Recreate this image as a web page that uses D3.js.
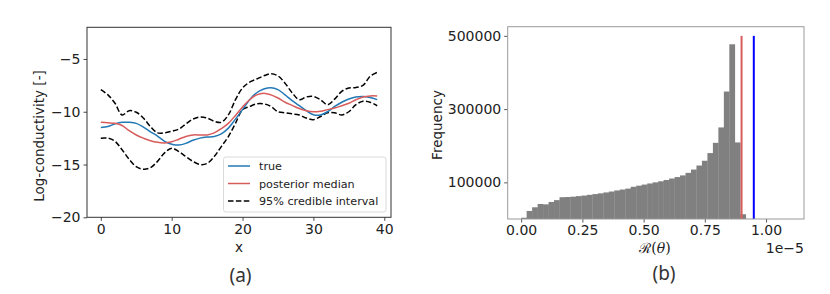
<!DOCTYPE html>
<html>
<head>
<meta charset="utf-8">
<script src="https://cdn.jsdelivr.net/npm/d3@7/dist/d3.min.js"></script>
<style>
  html, body { margin: 0; padding: 0; background: #fff; }
  svg { display: block; }
  text { font-family: "DejaVu Sans", sans-serif; }
</style>
</head>
<body>
<svg id="chart" width="830" height="294"></svg>
<script>
// ---------- Panel (a) data ----------
const xIndex = d3.range(40); // x = 0..39
const trueVals = [-11.5,-11.4,-11.15,-11.0,-11.0,-11.1,-11.45,-11.9,-12.3,-12.8,
  -13.07,-13.16,-13.0,-12.7,-12.5,-12.4,-12.35,-12.1,-11.55,-10.7,
  -9.8,-8.86,-8.2,-7.85,-7.72,-7.9,-8.4,-8.95,-9.43,-9.9,
  -10.28,-10.3,-10.0,-9.5,-9.1,-8.8,-8.6,-8.55,-8.65,-8.85];
const medianVals = [-11.0,-11.05,-11.1,-11.3,-11.8,-12.2,-12.5,-12.75,-12.9,-12.95,
  -12.85,-12.6,-12.35,-12.2,-12.2,-12.2,-12.0,-11.6,-11.1,-10.35,
  -9.55,-8.86,-8.4,-8.25,-8.4,-8.7,-9.1,-9.4,-9.7,-9.9,
  -10.0,-9.95,-9.8,-9.65,-9.43,-9.2,-8.86,-8.6,-8.5,-8.5];
const upperVals = [-7.9,-8.4,-9.2,-10.3,-9.9,-10.05,-10.6,-11.4,-12.0,-12.0,
  -11.85,-11.65,-11.15,-10.7,-10.5,-10.6,-10.9,-11.0,-10.3,-8.86,
  -7.75,-7.2,-6.9,-6.6,-6.4,-6.6,-7.3,-8.2,-8.86,-8.6,
  -8.55,-8.86,-9.33,-8.8,-8.07,-7.75,-7.7,-7.5,-6.65,-6.27];
const lowerVals = [-12.5,-12.5,-12.8,-13.6,-14.5,-15.2,-15.45,-15.3,-14.7,-13.9,
  -13.45,-13.77,-14.25,-14.7,-15.0,-14.9,-14.25,-13.3,-12.35,-11.1,
  -9.8,-9.5,-9.25,-9.25,-9.5,-10.0,-10.1,-10.2,-10.3,-10.6,
  -10.75,-10.45,-10.1,-10.1,-10.3,-10.0,-9.33,-9.0,-9.1,-9.43];
const xTicksA = [0, 10, 20, 30, 40];
const yTicksA = [-20, -15, -10, -5];
const legendLabels = ["true", "posterior median", "95% credible interval"];

// ---------- Panel (b) data ----------
const histCounts = [3500,22000,32000,41000,40000,46500,51500,59500,60000,61000,
  62500,64000,66000,68000,70000,72500,75000,78000,80500,83000,
  88000,91000,94000,97000,100000,103000,106500,110500,114500,119000,
  126000,135000,146000,159000,180000,208000,250000,348000,477000,209000,13000];
const binStart = 0.0;      // in units of 1e-5
const binWidth = 0.02237;  // in units of 1e-5
const redLineX = 0.90, blueLineX = 0.95, vlineTop = 500000;
const xTicksB = [0.00, 0.25, 0.50, 0.75, 1.00];
const yTicksB = [100000, 300000, 500000];

const svg = d3.select("#chart");
const fmtMinus = v => String(v).replace("-", "\u2212");
const tickFont = "14px";
const labelFont = "13.5px";

// ================= Panel (a) =================
const A = { l: 87, r: 391, t: 27.3, b: 217.3 };
const xA = d3.scaleLinear().domain([-1.95, 40.95]).range([A.l, A.r]);
const yA = d3.scaleLinear().domain([-20, -2]).range([A.b, A.t]);
const gA = svg.append("g");

const axisColA = "#333";
const xAxisA = d3.axisBottom(xA).tickValues(xTicksA).tickSize(3.5).tickPadding(3).tickFormat(d => fmtMinus(d));
const yAxisA = d3.axisLeft(yA).tickValues(yTicksA).tickSize(3.5).tickPadding(3).tickFormat(d => fmtMinus(d));
const gxA = gA.append("g").attr("transform", `translate(0,${A.b})`).call(xAxisA);
const gyA = gA.append("g").attr("transform", `translate(${A.l},0)`).call(yAxisA);
[gxA, gyA].forEach(g => {
  g.select(".domain").remove();
  g.selectAll("line").attr("stroke", axisColA).attr("stroke-width", 0.9);
  g.selectAll("text").attr("fill", "#222").style("font-size", tickFont).style("font-family", "DejaVu Sans");
});

const lineGen = vals => d3.line().x((d, i) => xA(xIndex[i])).y(d => yA(d)).curve(d3.curveCatmullRom.alpha(0.5))(vals);
gA.append("clipPath").attr("id", "clipA").append("rect")
  .attr("x", A.l).attr("y", A.t).attr("width", A.r - A.l).attr("height", A.b - A.t);
const plotA = gA.append("g").attr("clip-path", "url(#clipA)");
const dashArr = "5.5,2.4";
plotA.append("path").attr("d", lineGen(upperVals)).attr("fill", "none").attr("stroke", "#000").attr("stroke-width", 1.5).attr("stroke-dasharray", dashArr);
plotA.append("path").attr("d", lineGen(lowerVals)).attr("fill", "none").attr("stroke", "#000").attr("stroke-width", 1.5).attr("stroke-dasharray", dashArr);
plotA.append("path").attr("d", lineGen(trueVals)).attr("fill", "none").attr("stroke", "#2279b5").attr("stroke-width", 1.5);
plotA.append("path").attr("d", lineGen(medianVals)).attr("fill", "none").attr("stroke", "#d95c5c").attr("stroke-width", 1.5);

gA.append("rect").attr("x", A.l).attr("y", A.t).attr("width", A.r - A.l).attr("height", A.b - A.t)
  .attr("fill", "none").attr("stroke", axisColA).attr("stroke-width", 1);

// legend
const lg = gA.append("g");
lg.append("rect").attr("x", 223.5).attr("y", 157).attr("width", 162.5).attr("height", 55)
  .attr("rx", 2.5).attr("fill", "rgba(255,255,255,0.85)").attr("stroke", "#d0d0d0").attr("stroke-width", 0.8);
const legStyles = [
  { c: "#2279b5", dash: null },
  { c: "#d95c5c", dash: null },
  { c: "#000", dash: dashArr }
];
legendLabels.forEach((lab, i) => {
  const y = 166 + i * 17.5;
  const ln = lg.append("line").attr("x1", 228).attr("x2", 250).attr("y1", y).attr("y2", y)
    .attr("stroke", legStyles[i].c).attr("stroke-width", 1.5);
  if (legStyles[i].dash) ln.attr("stroke-dasharray", legStyles[i].dash);
  lg.append("text").attr("x", 259).attr("y", y).attr("dy", "0.36em").text(lab)
    .attr("fill", "#222").style("font-size", "11.2px");
});

// axis labels
gA.append("text").attr("x", 239).attr("y", 252).attr("text-anchor", "middle").text("x")
  .attr("fill", "#222").style("font-size", labelFont);
gA.append("text").attr("transform", "translate(44,136) rotate(-90)").attr("text-anchor", "middle")
  .text("Log-conductivity [-]").attr("fill", "#222").style("font-size", labelFont);
gA.append("text").attr("x", 240.5).attr("y", 282).attr("text-anchor", "middle").text("(a)")
  .attr("fill", "#333").style("font-size", "19px").style("font-family", "Noto Sans");

// ================= Panel (b) =================
const B = { l: 507.7, r: 804, t: 26.7, b: 219 };
const xB = d3.scaleLinear().domain([-0.055, 1.155]).range([B.l, B.r]);
const yB = d3.scaleLinear().domain([0, 525000]).range([B.b, B.t]);
const gB = svg.append("g");
const axisColB = "#999";

gB.selectAll("rect.bar").data(histCounts).enter().append("rect").attr("class", "bar")
  .attr("x", (d, i) => xB(binStart + i * binWidth))
  .attr("width", (d, i) => xB(binStart + (i + 1) * binWidth) - xB(binStart + i * binWidth) + 0.3)
  .attr("y", d => yB(d))
  .attr("height", d => yB(0) - yB(d))
  .attr("fill", "#808080");

gB.append("line").attr("x1", xB(redLineX)).attr("x2", xB(redLineX)).attr("y1", yB(0)).attr("y2", yB(vlineTop))
  .attr("stroke", "#d95c5c").attr("stroke-width", 2);
gB.append("line").attr("x1", xB(blueLineX)).attr("x2", xB(blueLineX)).attr("y1", yB(0)).attr("y2", yB(vlineTop))
  .attr("stroke", "#0000ff").attr("stroke-width", 2);

const xAxisB = d3.axisBottom(xB).tickValues(xTicksB).tickSize(3.5).tickPadding(3).tickFormat(d3.format(".2f"));
const yAxisB = d3.axisLeft(yB).tickValues(yTicksB).tickSize(3.5).tickPadding(3).tickFormat(d => String(d));
const gxB = gB.append("g").attr("transform", `translate(0,${B.b})`).call(xAxisB);
const gyB = gB.append("g").attr("transform", `translate(${B.l},0)`).call(yAxisB);
[gxB, gyB].forEach(g => {
  g.select(".domain").remove();
  g.selectAll("line").attr("stroke", "#444").attr("stroke-width", 0.9);
  g.selectAll("text").attr("fill", "#222").style("font-size", tickFont).style("font-family", "DejaVu Sans");
});

gB.append("rect").attr("x", B.l).attr("y", B.t).attr("width", B.r - B.l).attr("height", B.b - B.t)
  .attr("fill", "none").attr("stroke", axisColB).attr("stroke-width", 1);

gB.append("text").attr("x", 804).attr("y", 253).attr("text-anchor", "end").text("1e\u22125")
  .attr("fill", "#222").style("font-size", tickFont);
const xl = gB.append("text").attr("x", 655).attr("y", 253).attr("text-anchor", "middle")
  .attr("fill", "#222").style("font-size", "14px");
xl.append("tspan").text("\u211B(").style("font-family", "DejaVu Serif");
xl.append("tspan").text("\u03B8").style("font-style", "italic").style("font-family", "DejaVu Serif");
xl.append("tspan").text(")").style("font-family", "DejaVu Serif");
gB.append("text").attr("transform", "translate(442,125) rotate(-90)").attr("text-anchor", "middle")
  .text("Frequency").attr("fill", "#222").style("font-size", labelFont);
gB.append("text").attr("x", 664).attr("y", 280).attr("text-anchor", "middle").text("(b)")
  .attr("fill", "#333").style("font-size", "19px").style("font-family", "Noto Sans");
</script>
</body>
</html>
